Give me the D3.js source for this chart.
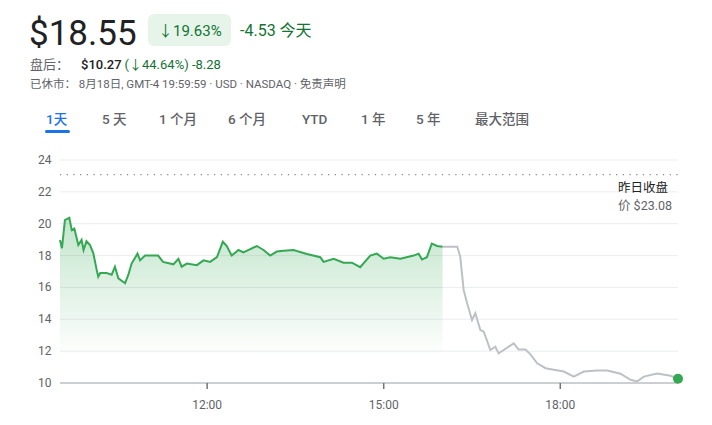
<!DOCTYPE html>
<html><head><meta charset="utf-8">
<script src="https://cdn.jsdelivr.net/npm/d3@7"></script>
<style>body{margin:0;background:#fff;font-family:Roboto,"Noto Sans CJK SC",sans-serif}</style>
</head><body><svg id="c" width="712" height="425"></svg>
<script>
// minutes since 9:30
const regularMin=[0,2,5,9.5,12,14.6,18.7,22,24,27,30.6,34,37.4,39,41,47.6,52.7,56,59.5,66.3,69.7,73,79,81.6,86.7,95,100,105,115.6,120.7,124,129.3,139.5,146.3,153,160,166,170,175,182,187,200.7,207.5,214.3,221,228,238,251.7,265.3,268.7,279,289,297.6,306,316.3,323,330,336.7,347,360.5,365.6,369,374,379,384.4,390];
const regularPrice=[18.98,18.46,20.23,20.38,19.6,19.7,18.66,18.98,18.35,18.9,18.66,18.14,17.1,16.67,16.9,16.9,16.8,17.3,16.57,16.26,16.8,17.5,18.12,17.7,18.0,18.0,18.0,17.6,17.45,17.8,17.3,17.5,17.4,17.7,17.6,17.9,18.87,18.6,18.0,18.35,18.2,18.6,18.35,18.0,18.25,18.3,18.35,18.1,17.9,17.6,17.8,17.55,17.55,17.27,18.0,18.12,17.8,17.9,17.8,18.0,18.12,17.75,17.9,18.75,18.6,18.55];
const afterMin=[390,391,405,408,411.5,415,420,423.4,428.5,432,438.7,443.8,447.2,452.3,462.5,467.6,474.5,479.6,486.4,495,503.4,513.6,523.8,534,547.6,557.8,571.4,581.6,588.4,595.2,608.8,622.4,630];
const afterPrice=[18.55,18.56,18.56,17.93,15.84,15.0,13.96,14.38,13.33,13.22,12.07,12.28,11.86,12.07,12.49,12.1,12.1,11.8,11.24,10.93,10.83,10.72,10.4,10.72,10.79,10.79,10.58,10.2,10.1,10.4,10.6,10.45,10.27];
const yTicks=[10,12,14,16,18,20,22,24];
const xTickMin=[150,330,510];
const xTickLabels=["12:00","15:00","18:00"];
const prevClose=23.08;
const tabs=["1天","5 天","1 个月","6 个月","YTD","1 年","5 年","最大范围"];
const tabX=[46,102,159,228,302,361,416,475];

const svg=d3.select("#c");
const x=d3.scaleLinear().domain([0,630]).range([60,678]);
const y=d3.scaleLinear().domain([10,24]).range([383,160]);
const green="#34a853", gray="#bdc1c6", txt="#202124", sub="#5f6368", dg="#137333";

// header
svg.append("text").attr("x",29).attr("y",45).attr("font-size",35).attr("fill",txt).text("$18.55");
svg.append("rect").attr("x",148).attr("y",14).attr("width",83).attr("height",32).attr("rx",6).attr("fill","#e6f4ea");
svg.append("text").attr("x",158).attr("y",36).attr("font-size",15).attr("fill",dg).text("↓19.63%");
svg.append("text").attr("x",240).attr("y",36).attr("font-size",16).attr("fill",dg).text("-4.53 今天");
const r2=svg.append("text").attr("x",30).attr("y",69).attr("font-size",13);
r2.append("tspan").attr("fill",sub).text("盘后：");
r2.append("tspan").attr("x",81).attr("fill",txt).attr("font-weight",500).text("$10.27");
r2.append("tspan").attr("fill",dg).attr("dx",3).text("(↓44.64%) -8.28");
svg.append("text").attr("x",30).attr("y",88).attr("font-size",11.5).attr("fill",sub).text("已休市：  8月18日, GMT-4 19:59:59 · USD · NASDAQ · 免责声明");
tabs.forEach((t,i)=>svg.append("text").attr("x",tabX[i]).attr("y",124).attr("font-size",13.5).attr("fill",i?sub:"#1a73e8").attr("font-weight",500).text(t));
svg.append("rect").attr("x",45).attr("y",130).attr("width",25).attr("height",3).attr("rx",1.5).attr("fill","#1a73e8");

// grid
yTicks.forEach(v=>{
  svg.append("line").attr("x1",60).attr("x2",678).attr("y1",y(v)).attr("y2",y(v)).attr("stroke",v===10?"#9aa0a6":"#ebedef").attr("stroke-width",1);
  svg.append("text").attr("x",38).attr("y",y(v)+4).attr("font-size",12).attr("fill",sub).text(v);
});
xTickMin.forEach((m,i)=>{
  svg.append("line").attr("x1",x(m)).attr("x2",x(m)).attr("y1",383).attr("y2",389).attr("stroke","#70757a").attr("stroke-width",1.5);
  svg.append("text").attr("x",x(m)).attr("y",409).attr("text-anchor","middle").attr("font-size",12).attr("fill",sub).text(xTickLabels[i]);
});
svg.append("line").attr("x1",60).attr("x2",678).attr("y1",y(prevClose)).attr("y2",y(prevClose)).attr("stroke","#80868b").attr("stroke-dasharray","1.2,5.5").attr("stroke-width",1.2);
svg.append("text").attr("x",618).attr("y",192).attr("font-size",12.5).attr("fill",txt).text("昨日收盘");
svg.append("text").attr("x",618).attr("y",210).attr("font-size",12.5).attr("fill",sub).text("价 $23.08");

// gradient
const g=svg.append("defs").append("linearGradient").attr("id","gr").attr("x1",0).attr("x2",0).attr("y1",0).attr("y2",1);
g.append("stop").attr("offset","0%").attr("stop-color",green).attr("stop-opacity",0.3);
g.append("stop").attr("offset","100%").attr("stop-color",green).attr("stop-opacity",0);
const reg=regularMin.map((m,i)=>[m,regularPrice[i]]);
const aft=afterMin.map((m,i)=>[m,afterPrice[i]]);
svg.append("path").datum(reg).attr("fill","url(#gr)").attr("d",d3.area().x(d=>x(d[0])).y0(y(11.6)).y1(d=>y(d[1])));
const ln=d3.line().x(d=>x(d[0])).y(d=>y(d[1]));
svg.append("path").datum(aft).attr("fill","none").attr("stroke",gray).attr("stroke-width",2).attr("d",ln);
svg.append("path").datum(reg).attr("fill","none").attr("stroke",green).attr("stroke-width",2).attr("d",ln);
const last=aft[aft.length-1];
svg.append("circle").attr("cx",x(last[0])).attr("cy",y(last[1])).attr("r",5).attr("fill",green);
</script></body></html>
